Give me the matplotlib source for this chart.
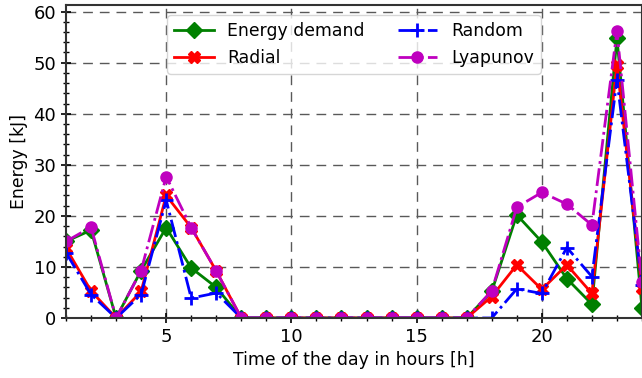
import matplotlib.pyplot as plt
from matplotlib.ticker import MultipleLocator

hours = list(range(1, 25))

energy_demand = [15.0, 17.2, 0, 9.3, 17.7, 9.8, 6.0, 0, 0, 0, 0, 0,
                 0, 0, 0, 0, 0, 5.2, 20.2, 14.9, 7.7, 2.7, 54.8, 1.9]
radial = [13.7, 5.3, 0, 5.2, 24.0, 17.7, 9.2, 0, 0, 0, 0, 0,
          0, 0, 0, 0, 0, 4.2, 10.4, 5.6, 10.4, 4.8, 49.6, 5.8]
random_ = [12.8, 4.6, 0, 4.6, 23.1, 3.9, 4.9, 0, 0, 0, 0, 0,
           0, 0, 0, 0, 0, 0.0, 5.7, 4.8, 13.8, 8.1, 46.7, 6.5]
lyapunov = [15.0, 17.8, 0, 9.3, 27.7, 17.7, 9.2, 0, 0, 0, 0, 0,
            0, 0, 0, 0, 0, 5.3, 21.7, 24.6, 22.3, 18.2, 56.2, 7.0]

fig = plt.figure(figsize=(6.42, 3.78), dpi=100)
ax = fig.add_axes([66 / 642, 60 / 378, 576 / 642, 313 / 378])

ax.plot(hours, energy_demand, color="green", marker="D", markersize=8,
        linewidth=2, label="Energy demand")
ax.plot(hours, radial, color="red", marker="X", markersize=8,
        linewidth=2, label="Radial")
ax.plot(hours, random_, color="blue", marker="+", markersize=10,
        markeredgewidth=2, linewidth=2, linestyle="-.", label="Random")
ax.plot(hours, lyapunov, color="m", marker="o", markersize=8,
        linewidth=2, linestyle="-.", label="Lyapunov")

ax.set_xlim(1, 24)
ax.set_ylim(0, 61.3)
ax.xaxis.set_major_locator(MultipleLocator(5))
ax.xaxis.set_minor_locator(MultipleLocator(1))
ax.yaxis.set_major_locator(MultipleLocator(10))
ax.yaxis.set_minor_locator(MultipleLocator(2))
ax.tick_params(which="major", direction="inout", length=7, width=1.2, labelsize=13)
ax.tick_params(which="minor", direction="inout", length=4, width=1)
ax.grid(which="major", color="0.35", linestyle=(0, (7, 5)), linewidth=1)
for s in ax.spines.values():
    s.set_linewidth(1.5)
    s.set_color("0.2")

ax.set_xlabel("Time of the day in hours [h]", fontsize=12.4)
ax.set_ylabel("Energy [kJ]", fontsize=12.4)
ax.legend(loc="upper center", ncol=2, fontsize=12.4, columnspacing=1.9,
          handlelength=2.3, borderaxespad=0.6)

fig.savefig("out.png", dpi=100)
